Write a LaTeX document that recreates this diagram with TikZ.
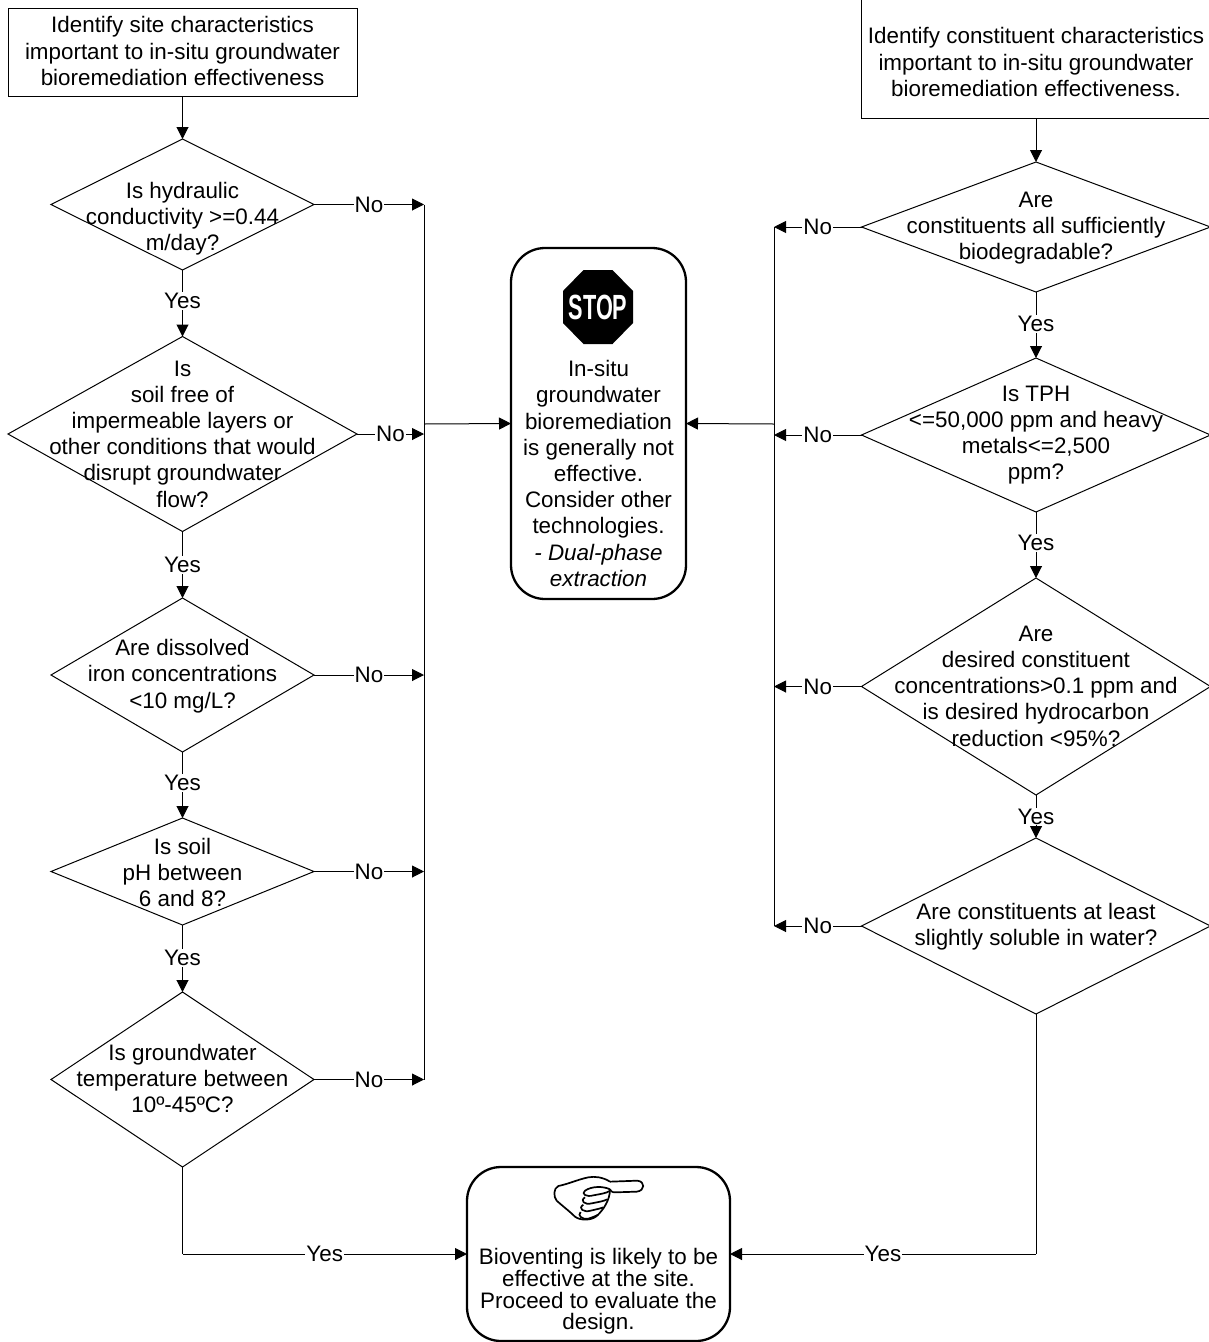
\documentclass[tikz,border=0pt]{standalone}
\usepackage{fontspec}
\setmainfont{Liberation Sans}
\usetikzlibrary{shapes.geometric,arrows.meta}
\tikzset{
  every node/.style={font=\fontsize{22.4}{26.2}\selectfont, inner sep=0pt, outer sep=0pt},
  dia/.style={draw, shape=diamond, line width=1pt, aspect=1.5},
  sq/.style={draw, rectangle, line width=1pt},
  rbox/.style={draw, rectangle, rounded corners=34pt, line width=2.3pt},
  lbl/.style={align=center},
  lnk/.style={line width=1pt},
  arr/.style={line width=1pt, -{Triangle[length=12pt,width=12pt]}},
  tag/.style={fill=white, inner xsep=1pt, inner ysep=1pt}
}
\begin{document}
\begin{tikzpicture}[x=1pt,y=-1pt]
\path[fill=white,use as bounding box] (0,0) rectangle (1209,1342);
\clip (0,0) rectangle (1209,1342);
% start boxes
\node[sq, minimum width=349pt, minimum height=88pt] (s1) at (182.5,52) {};
\node[lbl] (s1t) at (182.5,51) {Identify site characteristics\\important to in-situ groundwater\\bioremediation effectiveness};
\node[sq, minimum width=350pt, minimum height=120pt] (s2) at (1036,58) {};
\node[lbl] (s2t) at (1036,62) {Identify constituent characteristics\\important to in-situ groundwater\\bioremediation effectiveness.};
% left diamonds
\node[dia, minimum width=263pt, minimum height=131pt] (d1) at (182.5,204.5) {};
\node[lbl] (d1t) at (182.5,218.5) {Is hydraulic\\conductivity >=0.44\\m/day?};
\node[dia, minimum width=349pt, minimum height=195pt] (d2) at (182.5,434) {};
\node[lbl] (d2t) at (182.5,434) {Is\\soil free of\\impermeable layers or\\other conditions that would\\disrupt groundwater\\flow?};
\node[dia, minimum width=263pt, minimum height=154pt] (d3) at (182.5,675) {};
\node[lbl] (d3t) at (182.5,676) {Are dissolved\\iron concentrations\\<10 mg/L?};
\node[dia, minimum width=263pt, minimum height=107pt] (d4) at (182.5,871.5) {};
\node[lbl] (d4t) at (182.5,872.5) {Is soil\\pH between\\6 and 8?};
\node[dia, minimum width=263pt, minimum height=175pt] (d5) at (182.5,1079.5) {};
\node[lbl] (d5t) at (182.5,1078.5) {Is groundwater\\temperature between\\10º-45ºC?};
% right diamonds
\node[dia, minimum width=349pt, minimum height=130pt] (r1) at (1036,227) {};
\node[lbl] (r1t) at (1036,228) {Are\\constituents all sufficiently\\biodegradable?};
\node[dia, minimum width=349pt, minimum height=154pt] (r2) at (1036,435) {};
\node[lbl] (r2t) at (1036,435) {Is TPH\\<=50,000 ppm and heavy\\metals<=2,500\\ppm?};
\node[dia, minimum width=349pt, minimum height=217pt] (r3) at (1036,686.5) {};
\node[lbl] (r3t) at (1036,686) {Are\\desired constituent\\concentrations>0.1 ppm and\\is desired hydrocarbon\\reduction <95\%?};
\node[dia, minimum width=349pt, minimum height=176pt] (r4) at (1036,926) {};
\node[lbl] (r4t) at (1036,927) {Are constituents at least\\slightly soluble in water?};
% outcome boxes
\node[rbox, minimum width=175pt, minimum height=351pt] (stop) at (598.5,423.5) {};
\node[lbl] (stopt) at (598.5,473.5) {In-situ\\groundwater\\bioremediation\\is generally not\\effective.\\Consider other\\technologies.\\\textit{- Dual-phase}\\\textit{extraction}};
\node[rbox, minimum width=263pt, minimum height=174pt] (bio) at (598.5,1254) {};
\node[lbl, font=\fontsize{22.4}{21.6}\selectfont] (biot) at (598.5,1291.5) {Bioventing is likely to be\\effective at the site.\\Proceed to evaluate the\\design.};
% stop sign
\fill (598,307) +(-14.5,-37) -- +(14.5,-37) -- +(35,-16) -- +(35,16) -- +(14.5,37) -- +(-14.5,37) -- +(-35,16) -- +(-35,-16) -- cycle;
\node[text=white] (stopsign) at (598,307.5) {\scalebox{0.62}[1]{\fontsize{35}{35}\selectfont\bfseries STOP}};
% hand
\begin{scope}[shift={(460,1160)},scale=1/3,line width=1.7pt,line join=round]
\draw (450,65) -- (532,62) .. controls (556,64) and (556,92) .. (530,95) -- (465,97) .. controls (455,97) and (452,92) .. (450,88);
\draw (450,65) .. controls (430,52) and (405,48) .. (385,52) .. controls (355,58) and (325,72) .. (295,78)
  .. controls (280,85) and (280,110) .. (290,122) .. controls (310,140) and (330,155) .. (345,170)
  .. controls (360,182) and (395,182) .. (410,168) .. controls (430,150) and (450,120) .. (450,88);
\draw (450,88) .. controls (430,78) and (395,78) .. (375,92) .. controls (362,102) and (380,112) .. (400,106) .. controls (420,102) and (440,100) .. (450,92);
\draw (375,112) .. controls (358,122) and (375,136) .. (395,130) .. controls (415,126) and (430,124) .. (442,118);
\draw (370,134) .. controls (352,146) and (372,158) .. (392,152) .. controls (408,148) and (420,146) .. (430,142);
\draw (362,156) .. controls (350,166) and (368,180) .. (385,176) .. controls (395,172) and (405,170) .. (415,164);
\end{scope}
% bus coordinates
\coordinate (l1) at (424,204.5);
\coordinate (l2) at (424,434);
\coordinate (l3) at (424,675);
\coordinate (l4) at (424,871.5);
\coordinate (l5) at (424,1079.5);
\coordinate (ls) at (424,424);
\coordinate (b1) at (774,227);
\coordinate (b2) at (774,435);
\coordinate (b3) at (774,686.5);
\coordinate (b4) at (774,926);
\coordinate (bs) at (774,424);
\draw[lnk] (l1) -- (l5);
\draw[lnk] (b1) -- (b4);
\draw[arr] (ls) -- (stop.west);
\draw[arr] (bs) -- (stop.east);
% vertical flow
\draw[arr] (s1) -- (d1.north);
\draw[arr] (s2) -- (r1.north);
\draw[arr] (d1.south) -- node[tag,pos=.47] (y1) {Yes} (d2.north);
\draw[arr] (d2.south) -- node[tag,pos=.5] (y2) {Yes} (d3.north);
\draw[arr] (d3.south) -- node[tag,pos=.47] (y3) {Yes} (d4.north);
\draw[arr] (d4.south) -- node[tag,pos=.49] (y4) {Yes} (d5.north);
\draw[arr] (r1.south) -- node[tag,pos=.48] (y5) {Yes} (r2.north);
\draw[arr] (r2.south) -- node[tag,pos=.47] (y6) {Yes} (r3.north);
\draw[arr] (r3.south) -- node[tag,pos=.5] (y7) {Yes} (r4.north);
% no links
\draw[arr] (d1.east) -- node[tag,pos=.5] (n1) {No} (l1);
\draw[arr] (d2.east) -- node[tag,pos=.5] (n2) {No} (l2);
\draw[arr] (d3.east) -- node[tag,pos=.5] (n3) {No} (l3);
\draw[arr] (d4.east) -- node[tag,pos=.5] (n4) {No} (l4);
\draw[arr] (d5.east) -- node[tag,pos=.5] (n5) {No} (l5);
\draw[arr] (r1.west) -- node[tag,pos=.5] (n6) {No} (b1);
\draw[arr] (r2.west) -- node[tag,pos=.5] (n7) {No} (b2);
\draw[arr] (r3.west) -- node[tag,pos=.5] (n8) {No} (b3);
\draw[arr] (r4.west) -- node[tag,pos=.5] (n9) {No} (b4);
% bottom
\coordinate (cl) at (d5.south |- bio.west);
\coordinate (cr) at (r4.south |- bio.east);
\draw[lnk] (d5.south) -- (cl);
\draw[lnk] (r4.south) -- (cr);
\draw[arr] (cl) -- node[tag,pos=.5] (y8) {Yes} (bio.west);
\draw[arr] (cr) -- node[tag,pos=.5] (y9) {Yes} (bio.east);
\end{tikzpicture}
\end{document}
